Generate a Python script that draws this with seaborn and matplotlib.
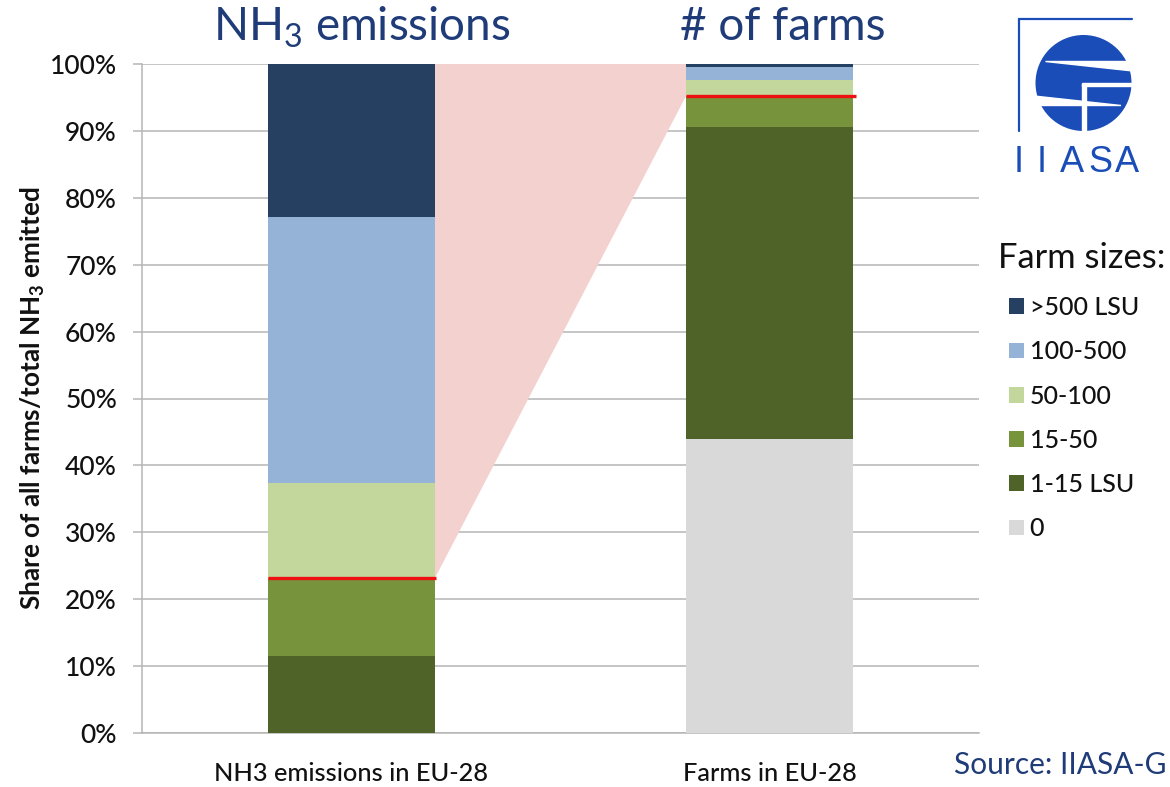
import numpy as np
import pandas as pd
import matplotlib
matplotlib.use("Agg")
import matplotlib.pyplot as plt
from matplotlib.patches import Patch, Circle, Polygon
import seaborn as sns

categories = ["NH3 emissions in EU-28", "Farms in EU-28"]
sizes = ["0", "1-15 LSU", "15-50", "50-100", "100-500", ">500 LSU"]
nh3_shares = [0.0, 11.5, 11.6, 14.2, 39.9, 22.8]
farm_shares = [44.0, 46.6, 4.6, 2.4, 2.0, 0.4]
colors = ["#d9d9d9", "#4f6228", "#77933c", "#c3d69b", "#95b3d7", "#254061"]
yticks = [0, 10, 20, 30, 40, 50, 60, 70, 80, 90, 100]

sns.set_theme(style="white")
plt.rcParams["font.family"] = ["Lato", "DejaVu Sans"]
plt.rcParams["mathtext.default"] = "regular"

W, H = 1170, 787
fig = plt.figure(figsize=(W / 100, H / 100), dpi=100)
ax = fig.add_axes([142 / W, 1 - 733 / H, 837 / W, 669 / H])

BAR_W = 0.4
df = pd.DataFrame({"category": categories})
nh3_cum = np.cumsum(nh3_shares)
farm_cum = np.cumsum(farm_shares)
for i in range(len(sizes) - 1, -1, -1):
    df["v"] = [nh3_cum[i], farm_cum[i]]
    sns.barplot(data=df, x="category", y="v", color=colors[i], saturation=1,
                width=BAR_W, ax=ax, zorder=3, linewidth=0)

ax.set_xlim(-0.5, 1.5)
ax.set_ylim(0, 100)
left_edge, right_edge = BAR_W / 2, 1 - BAR_W / 2
nh3_red = nh3_cum[2]
farm_red = farm_cum[2]
ax.add_patch(Polygon([(left_edge, nh3_red), (left_edge, 100), (right_edge, 100), (right_edge, farm_red)],
                     closed=True, facecolor="#f3d1cf", edgecolor="none", zorder=2))
ax.plot([-BAR_W / 2, left_edge + 0.002], [nh3_red, nh3_red], color="#ee1111", lw=2.4, zorder=5, solid_capstyle="butt")
ax.plot([right_edge, 1 + BAR_W / 2 + 0.007], [farm_red, farm_red], color="#ee1111", lw=2.4, zorder=5, solid_capstyle="butt")

ax.set_yticks(yticks)
ax.set_yticklabels([f"{v}%" for v in yticks], fontsize=19, color="#111111", fontweight="medium")
ax.yaxis.grid(True, color="#b5b5b5", lw=1.1, zorder=0)
ax.set_axisbelow(True)
ax.tick_params(axis="y", length=6.5, width=1.1, color="#b5b5b5", pad=11.5, left=True)
ax.tick_params(axis="x", length=0, pad=21)
for lab in ax.get_xticklabels():
    lab.set_fontsize(18.3)
    lab.set_color("#111111")
    lab.set_fontweight("medium")
for s in ["top", "right"]:
    ax.spines[s].set_visible(False)
for s in ["left", "bottom"]:
    ax.spines[s].set_color("#b5b5b5")
    ax.spines[s].set_linewidth(1.1)
ax.set_xlabel("")
ax.set_ylabel("Share of all farms/total NH$_3$ emitted", fontsize=18.8, fontweight="bold", color="#111111", va="center")
ax.yaxis.set_label_coords((33 - 142) / 837, 0.5)

navy = "#1f3c78"
fig.text(362 / W, 1 - 27 / H, "NH$_3$ emissions", fontsize=33, color=navy, ha="center", va="center")
fig.text(783 / W, 1 - 27 / H, "# of farms", fontsize=33, color=navy, ha="center", va="center")
fig.text(954 / W, 1 - 765 / H, "Source: IIASA-G", fontsize=21.5, color=navy, ha="left", va="center")

fig.text(998 / W, 1 - 258 / H, "Farm sizes:", fontsize=24.8, color="#111111", ha="left", va="center")
order = list(range(len(sizes) - 1, -1, -1))
handles = [Patch(facecolor=colors[i], edgecolor="none") for i in order]
leg = fig.legend(handles, [sizes[i] for i in order], loc="upper left",
                 bbox_to_anchor=(1009 / W, 1 - 296 / H), bbox_transform=fig.transFigure,
                 frameon=False, fontsize=18, handlelength=0.6, handleheight=0.6, handletextpad=0.22,
                 labelspacing=0.85, borderpad=0, borderaxespad=0)
for t in leg.get_texts():
    t.set_color("#111111")
    t.set_fontweight("medium")

# IIASA logo
logo = fig.add_axes([1010 / W, 1 - 190 / H, 130 / W, 175 / H])
logo.set_xlim(1010, 1140)
logo.set_ylim(190, 15)
logo.axis("off")
blue = "#1a4db8"
logo.plot([1019, 1019, 1132], [131, 19, 19], color=blue, lw=1.6, solid_joinstyle="miter")
logo.add_patch(Circle((1083.5, 83), 48, facecolor=blue, edgecolor="none"))
logo.fill([1045, 1137, 1137], [60.5, 60.5, 71], color="white", zorder=3)
logo.fill([1121, 1034, 1034], [105.5, 96, 105.5], color="white", zorder=3)
logo.fill([1082, 1086, 1086, 1082], [84, 84, 135, 135], color="white", zorder=3)
logo.fill([1082, 1135, 1135, 1082], [83, 83, 86, 86], color="white", zorder=3)
for xc, ch in zip([1019, 1042, 1072, 1100, 1127], "IIASA"):
    logo.text(xc, 163, ch, fontsize=26, color=blue, ha="center", va="center", family="Liberation Sans")

fig.savefig("out.png", dpi=100)
